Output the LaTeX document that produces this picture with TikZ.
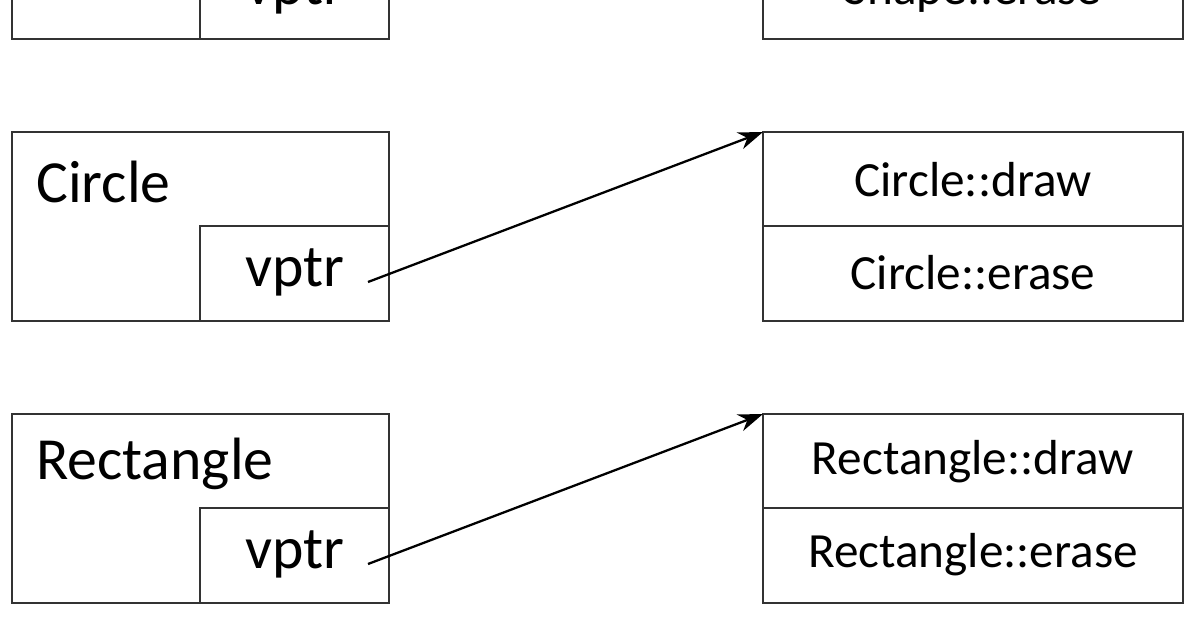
\documentclass[tikz,border=0pt]{standalone}
\usepackage{fontspec}
\setmainfont{Carlito}
\usetikzlibrary{arrows.meta,positioning}
\begin{document}
\begin{tikzpicture}[x=0.02cm,y=-0.02cm,>={Stealth[length=14pt,width=10pt]}]
  \tikzset{box/.style={draw=black!80,line width=1.3pt,fill=white},
    obj/.style={font=\fontsize{34}{38}\selectfont,anchor=west},
    ptr/.style={font=\fontsize{34}{38}\selectfont},
    fun/.style={font=\fontsize{28}{32}\selectfont},
    link/.style={->,line width=1.3pt}}
  \useasboundingbox (0,0) rectangle (1194,628);
  \clip (0,0) rectangle (1194,628);
  % one row per class: y offset, name, table entries
  \foreach \dy/\cls/\nm in {-282/Shape/sh,0/Circle/ci,282/Rectangle/re}{
    \begin{scope}[yshift=-\dy*0.02cm]
      \draw[box] (12,132) rectangle (389,321);
      \draw[box] (200,226) rectangle (389,321);
      \node[obj] (\nm name) at (30,182) {\cls};
      \node[ptr] (\nm ptr) at (295,272) {vptr};
      \draw[box] (763,132) rectangle (1183,321);
      \draw[box] (763,226) -- (1183,226);
      \node[fun] (\nm draw) at (973,180) {\cls::draw};
      \node[fun] (\nm erase) at (973,273) {\cls::erase};
      \coordinate (\nm src) at (368,282);
      \coordinate (\nm tab) at (763,132);
    \end{scope}
  }
  \draw[link] (cisrc) -- (citab);
  \draw[link] (resrc) -- (retab);
\end{tikzpicture}
\end{document}
